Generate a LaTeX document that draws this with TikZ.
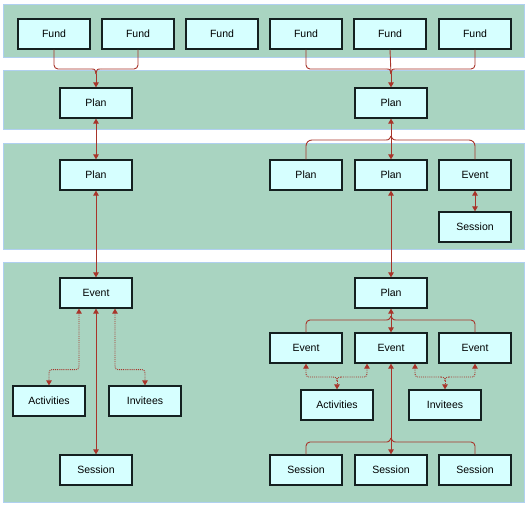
\documentclass[tikz,border=0pt]{standalone}
\usepackage{fontspec}
\setmainfont{Liberation Sans}
\usetikzlibrary{arrows.meta}
\definecolor{bandgreen}{RGB}{169,212,193}
\definecolor{bandedge}{RGB}{176,208,240}
\definecolor{boxfill}{RGB}{214,255,255}
\definecolor{boxedge}{RGB}{20,32,32}
\definecolor{glow}{RGB}{150,200,240}
\definecolor{linkred}{RGB}{168,52,42}
\tikzset{
  band/.style={fill=bandgreen, draw=bandedge, line width=1pt},
  entity/.style={rectangle, minimum width=72pt, minimum height=30pt, inner sep=0pt,
    fill=boxfill, draw=boxedge, line width=1.25pt,
    preaction={draw=glow, line width=2.6pt},
    font=\fontsize{10.5}{12}\selectfont},
  conn/.style={draw=linkred, line width=0.9pt},
  tipboth/.style={{Triangle[length=5pt,width=5.5pt]}-{Triangle[length=5pt,width=5.5pt]}},
  tipend/.style={-{Triangle[length=5pt,width=5.5pt]}},
  tipstart/.style={{Triangle[length=5pt,width=5.5pt]}-},
  dotconn/.style={draw=linkred, line width=0.9pt, densely dotted},
}
\begin{document}
\begin{tikzpicture}[x=1pt,y=-1pt]
\useasboundingbox (0,0) rectangle (529,506);
% bands
\path[band] (3,4) rectangle (524,57);
\path[band] (3,70) rectangle (524,129);
\path[band] (3,143) rectangle (524,249);
\path[band] (3,262) rectangle (524,502);

% row 1: funds
\node[entity] (f1) at (54,34) {Fund};
\node[entity] (f2) at (138,34) {Fund};
\node[entity] (f3) at (222,34) {Fund};
\node[entity] (f4) at (306,34) {Fund};
\node[entity] (f5) at (390,34) {Fund};
\node[entity] (f6) at (475,34) {Fund};

% row 2
\node[entity] (pa) at (96,103) {Plan};
\node[entity] (pb) at (391,103) {Plan};

% row 3
\node[entity] (pc) at (96,175) {Plan};
\node[entity] (pd) at (306,175) {Plan};
\node[entity] (pe) at (391,175) {Plan};
\node[entity] (ea) at (475,175) {Event};
\node[entity] (sa) at (475,227) {Session};

% row 4 left
\node[entity] (eb) at (96,293) {Event};
\node[entity] (aa) at (49,401) {Activities};
\node[entity] (ia) at (145,401) {Invitees};
\node[entity] (sb) at (96,470) {Session};

% row 4 right
\node[entity] (pf) at (391,293) {Plan};
\node[entity] (ec) at (306,348) {Event};
\node[entity] (ed) at (391,348) {Event};
\node[entity] (ee) at (475,348) {Event};
\node[entity] (ab) at (337,405) {Activities};
\node[entity] (ib) at (445,405) {Invitees};
\node[entity] (sc) at (306,470) {Session};
\node[entity] (sd) at (391,470) {Session};
\node[entity] (se) at (475,470) {Session};

% ---- funds to left plan
\coordinate (ja) at (96,74);
\draw[conn, rounded corners=4pt] (f1.south) |- (91,69);
\draw[conn] (91,69) .. controls (95,69) .. (ja);
\draw[conn, rounded corners=4pt] (f2.south) |- (101,69);
\draw[conn] (101,69) .. controls (97,69) .. (ja);
\draw[conn, tipend] (ja) -- (pa.north);

% ---- funds to right plan
\coordinate (jb) at (391,74);
\draw[conn, rounded corners=4pt] (f4.south) |- (386,69);
\draw[conn] (386,69) .. controls (390,69) .. (jb);
\draw[conn, rounded corners=4pt] (f6.south) |- (396,69);
\draw[conn] (396,69) .. controls (392,69) .. (jb);
\draw[conn] (f5.south) -- (jb);
\draw[conn, tipend] (jb) -- (pb.north);

% ---- left column verticals
\draw[conn, tipboth] (pa.south) -- (pc.north);
\draw[conn, tipboth] (pc.south) -- (eb.north);
\draw[conn, tipboth] (eb.south) -- (sb.north);

% ---- left event to activities / invitees (dotted)
\draw[dotconn, tipboth, rounded corners=3pt] ([xshift=-17pt]eb.south) -- ++(0,61) -| (aa.north);
\draw[dotconn, tipboth, rounded corners=3pt] ([xshift=19pt]eb.south) -- ++(0,61) -| (ia.north);

% ---- right plan split in band 3
\coordinate (jc) at (391,136);
\draw[conn, tipboth] (pb.south) -- (pe.north);
\draw[conn] (jc) .. controls (389,140) .. (384,140);
\draw[conn, rounded corners=6pt] (384,140) -| (pd.north);
\draw[conn] (jc) .. controls (393,140) .. (398,140);
\draw[conn, rounded corners=6pt] (398,140) -| (ea.north);

\draw[conn, tipboth] (ea.south) -- (sa.north);
\draw[conn, tipboth] (pe.south) -- (pf.north);

% ---- right plan split in band 4
\coordinate (jd) at (391,316);
\draw[conn, tipboth] (pf.south) -- (ed.north);
\draw[conn] (jd) .. controls (389,320) .. (384,320);
\draw[conn, rounded corners=4pt] (384,320) -| (ec.north);
\draw[conn] (jd) .. controls (393,320) .. (398,320);
\draw[conn, rounded corners=4pt] (398,320) -| (ee.north);

% ---- events to activities (dotted)
\coordinate (je) at (337,381);
\draw[dotconn, tipstart, rounded corners=3pt] (ec.south) |- (333,377);
\draw[dotconn] (333,377) .. controls (336,377) .. (je);
\draw[dotconn, tipstart, rounded corners=3pt] ([xshift=-24pt]ed.south) |- (341,377);
\draw[dotconn] (341,377) .. controls (338,377) .. (je);
\draw[dotconn, tipend] (je) -- (ab.north);

% ---- events to invitees (dotted)
\coordinate (jf) at (445,381);
\draw[dotconn, tipstart, rounded corners=3pt] ([xshift=24pt]ed.south) |- (441,377);
\draw[dotconn] (441,377) .. controls (444,377) .. (jf);
\draw[dotconn, tipstart, rounded corners=3pt] (ee.south) |- (449,377);
\draw[dotconn] (449,377) .. controls (446,377) .. (jf);
\draw[dotconn, tipend] (jf) -- (ib.north);

% ---- middle event to sessions
\coordinate (jg) at (391,438);
\draw[conn, tipboth] (ed.south) -- (sd.north);
\draw[conn] (jg) .. controls (389,442) .. (384,442);
\draw[conn, rounded corners=4pt] (384,442) -| (sc.north);
\draw[conn] (jg) .. controls (393,442) .. (398,442);
\draw[conn, rounded corners=4pt] (398,442) -| (se.north);
\end{tikzpicture}
\end{document}
